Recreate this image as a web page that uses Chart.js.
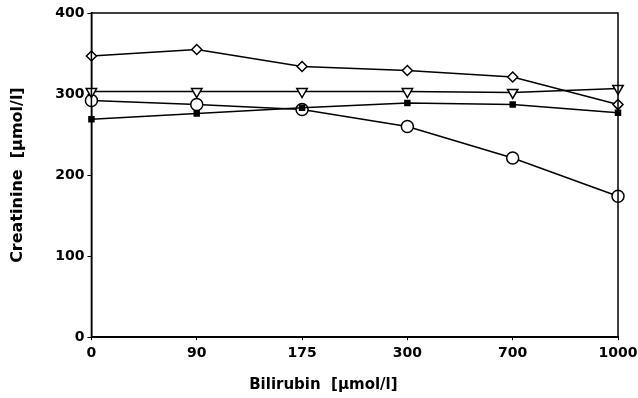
<!DOCTYPE html>
<html><head><meta charset="utf-8">
<script src="https://cdn.jsdelivr.net/npm/chart.js@4/dist/chart.umd.min.js"></script>
<style>html,body{margin:0;padding:0;background:#fff;}#wrap{width:638px;height:398px;}</style>
</head><body><div id="wrap"><canvas id="c" width="638" height="398"></canvas></div>
<script>
const categories = ["0", "90", "175", "300", "700", "1000"];
const diamondSeries = [347, 355, 334, 329, 321, 287];
const triangleSeries = [303, 303, 303, 303, 302, 307];
const squareSeries = [269, 276, 283, 289, 287, 277];
const circleSeries = [292, 287, 281, 260, 221, 174];
const yTicks = [0, 100, 200, 300, 400];

const boxPlugin = {
  id: 'box',
  afterDatasetsDraw(chart) {
    const a = chart.chartArea, ctx = chart.ctx;
    ctx.save(); ctx.strokeStyle = '#000'; ctx.lineWidth = 1.5;
    ctx.strokeRect(a.left, a.top, a.right - a.left, a.bottom - a.top);
    ctx.restore();
  }
};

const FONT = 'DejaVu Sans';
const base = {borderColor:'#000', borderWidth:1.5, pointBorderColor:'#000', pointBorderWidth:1.5, clip:false, tension:0};
new Chart(document.getElementById('c'), {
  type: 'line',
  data: {
    labels: categories,
    datasets: [
      Object.assign({}, base, {data: diamondSeries, pointStyle:'rectRot', pointRadius:5, pointBackgroundColor:'#fff'}),
      Object.assign({}, base, {data: triangleSeries, pointStyle:'triangle', rotation:180, pointRadius:6, pointBackgroundColor:'#fff'}),
      Object.assign({}, base, {data: squareSeries, pointStyle:'rect', pointRadius:3.5, pointBackgroundColor:'#000'}),
      Object.assign({}, base, {data: circleSeries, pointStyle:'circle', pointRadius:6, pointBackgroundColor:'#fff'})
    ]
  },
  options: {
    responsive: false, animation: false,
    layout: {padding: {top: 13, right: 0, left: 4, bottom: 0}},
    plugins: {legend: {display:false}, tooltip: {enabled:false}},
    scales: {
      x: {
        type: 'category', offset: false,
        afterFit(s) { s.paddingRight = 20; },
        grid: {drawOnChartArea:false, drawTicks:true, tickLength:3, color:'#000'},
        border: {display:true, color:'#000', width:1.5},
        ticks: {color:'#000', font:{family:FONT, size:14, weight:'bold'}, padding:5, maxRotation:0},
        title: {display:true, text:'Bilirubin  [µmol/l]' + '\u00A0'.repeat(12), color:'#000', font:{family:FONT, size:15, weight:'bold'}, padding:{top:9}}
      },
      y: {
        min: 0, max: 400,
        afterBuildTicks(s) { s.ticks = yTicks.map(v => ({value:v})); },
        grid: {drawOnChartArea:false, drawTicks:true, tickLength:4, color:'#000'},
        border: {display:true, color:'#000', width:1.5},
        ticks: {color:'#000', font:{family:FONT, size:14, weight:'bold'}, padding:3},
        title: {display:true, text:'Creatinine  [µmol/l]', color:'#000', font:{family:FONT, size:16, weight:'bold'}, padding:{bottom:25}}
      }
    }
  },
  plugins: [boxPlugin]
});
</script></body></html>
